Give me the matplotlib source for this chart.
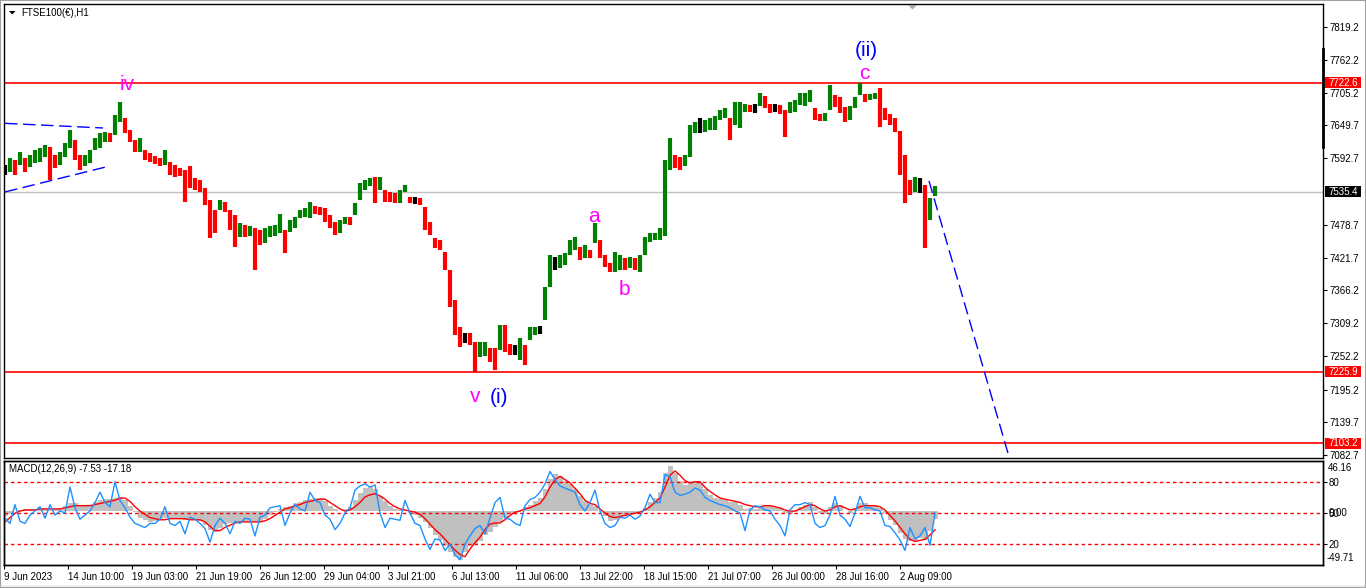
import numpy as np
import matplotlib
matplotlib.use("Agg")
import matplotlib.pyplot as plt
from matplotlib.transforms import blended_transform_factory
from matplotlib.patches import Rectangle, Polygon
from matplotlib.lines import Line2D

plt.rcParams['font.family'] = ['Liberation Sans', 'DejaVu Sans']
plt.rcParams['lines.scale_dashes'] = False

# ---------------- data ----------------
symbol = "FTSE100(€),H1"
macd_title = "MACD(12,26,9) -7.53 -17.18"

closes = [
    7573, 7581, 7576, 7593, 7581, 7590, 7595, 7598, 7607, 7590,
    7586, 7593, 7607, 7633, 7604, 7581, 7590, 7593, 7619, 7624,
    7629, 7628, 7650, 7672, 7650, 7633, 7612, 7616, 7598, 7593,
    7590, 7586, 7593, 7576, 7573, 7569, 7564, 7555, 7547, 7543,
    7521, 7500, 7483, 7512, 7509, 7490, 7469, 7473, 7466, 7469,
    7461, 7452, 7459, 7466, 7469, 7478, 7444, 7473, 7483, 7495,
    7499, 7511, 7504, 7500, 7495, 7478, 7469, 7476, 7487, 7483,
    7512, 7538, 7547, 7555, 7550, 7552, 7530, 7526, 7524, 7528,
    7542, 7521, 7521, 7518, 7487, 7469, 7449, 7442, 7418, 7375,
    7315, 7284, 7284, 7280, 7254, 7263, 7266, 7254, 7246, 7280,
    7277, 7263, 7263, 7272, 7254, 7292, 7297, 7297, 7349, 7409,
    7409, 7414, 7421, 7435, 7444, 7426, 7435, 7426, 7457, 7435,
    7418, 7404, 7409, 7414, 7409, 7414, 7411, 7414, 7444, 7456,
    7457, 7464, 7564, 7590, 7586, 7585, 7590, 7641, 7645, 7645,
    7648, 7650, 7655, 7667, 7669, 7650, 7672, 7679, 7681, 7679,
    7679, 7693, 7688, 7679, 7679, 7676, 7650, 7679, 7681, 7693,
    7696, 7702, 7672, 7662, 7664, 7710, 7693, 7679, 7667, 7672,
    7690, 7714, 7696, 7698, 7700, 7693, 7667, 7659, 7650, 7581,
    7555, 7542, 7547, 7547, 7469, 7512, 7535.4,
]
highs = [
    7581, 7593, 7590, 7604, 7593, 7598, 7607, 7610, 7616, 7612,
    7598, 7604, 7619, 7641, 7624, 7598, 7598, 7607, 7628, 7636,
    7638, 7636, 7667, 7690, 7662, 7641, 7624, 7628, 7607, 7602,
    7597, 7593, 7607, 7586, 7581, 7576, 7573, 7580, 7559, 7555,
    7542, 7521, 7504, 7521, 7518, 7504, 7495, 7481, 7478, 7476,
    7473, 7469, 7473, 7476, 7478, 7497, 7469, 7487, 7492, 7504,
    7507, 7518, 7511, 7509, 7507, 7495, 7483, 7487, 7492, 7492,
    7516, 7550, 7555, 7559, 7561, 7561, 7538, 7535, 7533, 7538,
    7547, 7526, 7526, 7524, 7509, 7483, 7456, 7452, 7432, 7401,
    7349, 7303, 7292, 7292, 7277, 7277, 7277, 7266, 7266, 7306,
    7306, 7273, 7272, 7284, 7272, 7303, 7303, 7304, 7371, 7426,
    7423, 7426, 7430, 7452, 7457, 7440, 7444, 7435, 7481, 7452,
    7426, 7413, 7432, 7426, 7421, 7423, 7421, 7426, 7457, 7464,
    7464, 7473, 7590, 7628, 7598, 7595, 7598, 7650, 7655, 7662,
    7659, 7662, 7665, 7676, 7679, 7662, 7690, 7690, 7686, 7684,
    7686, 7705, 7700, 7686, 7686, 7684, 7676, 7690, 7693, 7705,
    7705, 7710, 7679, 7669, 7671, 7719, 7702, 7698, 7681, 7683,
    7698, 7722, 7703, 7703, 7705, 7714, 7679, 7669, 7662, 7640,
    7598, 7555, 7561, 7559, 7547, 7524, 7545,
]
lows = [
    7564, 7569, 7564, 7581, 7569, 7578, 7585, 7586, 7595, 7555,
    7576, 7581, 7595, 7610, 7590, 7573, 7580, 7585, 7607, 7610,
    7621, 7621, 7633, 7655, 7636, 7621, 7604, 7604, 7590, 7586,
    7583, 7580, 7581, 7564, 7561, 7562, 7518, 7542, 7538, 7535,
    7512, 7456, 7464, 7504, 7500, 7469, 7440, 7457, 7457, 7459,
    7401, 7444, 7447, 7457, 7459, 7464, 7430, 7466, 7473, 7490,
    7492, 7490, 7497, 7495, 7483, 7473, 7461, 7464, 7480, 7478,
    7495, 7521, 7538, 7545, 7516, 7538, 7518, 7518, 7516, 7516,
    7535, 7516, 7514, 7512, 7469, 7461, 7438, 7435, 7401, 7337,
    7289, 7268, 7275, 7272, 7225, 7251, 7253, 7242, 7229, 7263,
    7260, 7254, 7254, 7246, 7237, 7280, 7289, 7291, 7315, 7371,
    7401, 7404, 7409, 7426, 7435, 7418, 7421, 7421, 7447, 7421,
    7406, 7397, 7397, 7401, 7401, 7404, 7401, 7397, 7426, 7449,
    7452, 7452, 7460, 7573, 7576, 7573, 7580, 7595, 7636, 7636,
    7638, 7641, 7641, 7659, 7662, 7624, 7650, 7645, 7672, 7672,
    7671, 7683, 7679, 7671, 7672, 7669, 7629, 7671, 7672, 7684,
    7683, 7690, 7659, 7657, 7657, 7676, 7681, 7671, 7655, 7659,
    7679, 7702, 7690, 7693, 7695, 7647, 7659, 7650, 7638, 7564,
    7516, 7530, 7535, 7533, 7438, 7487, 7528,
]

macd_main = [
    -5, -3, 0, 1, 2, 2, 2, 3, 2, 1,
    2, 3, 5, 7, 7, 6, 5, 6, 8, 10,
    11, 11, 12, 13, 10, 5, -1, -6, -8, -10,
    -9, -8, -6, -6, -7, -7, -8, -8, -8, -9,
    -13, -17, -19, -16, -12, -11, -11, -10, -10, -9,
    -10, -10, -7, -4, -1, 2, 4, 5, 7, 8,
    10, 11, 12, 12, 9, 5, 2, 0, 2, 4,
    10, 17, 21, 22, 20, 14, 9, 5, 2, 1,
    1, -2, -4, -6, -10, -16, -22, -27, -32, -38,
    -42, -45, -38, -32, -30, -28, -22, -19, -15, -10,
    -6, -3, -2, 1, 4, 6, 9, 12, 20, 30,
    34, 32, 28, 25, 20, 14, 9, 6, 5, 0,
    -5, -9, -8, -5, -4, -3, -3, -1, 3, 8,
    12, 18, 35, 42, 35, 28, 24, 27, 28, 26,
    20, 15, 12, 11, 10, 8, 8, 6, 2, 3,
    2, 5, 6, 5, 4, 3, -2, -3, -1, 4,
    6, 8, 4, -2, -3, 4, 7, 6, 0, -2,
    3, 7, 7, 6, 5, 3, -2, -8, -13, -20,
    -26, -28, -28, -25, -27, -18, -7.53,
]
macd_signal = [
    -10, -6, -2, 0, 1, 1, 1, 2, 2, 2,
    2, 2, 3, 4, 5, 5, 5, 5, 6, 7,
    8, 9, 10, 12, 12, 9, 4, 0, -3, -6,
    -7, -8, -8, -7, -7, -7, -7, -8, -8, -8,
    -10, -14, -18, -18, -15, -13, -11, -10, -10, -10,
    -10, -10, -9, -7, -4, -1, 2, 3, 5, 6,
    8, 9, 10, 11, 11, 8, 5, 2, 0, 1,
    4, 8, 13, 15, 16, 14, 11, 7, 4, 2,
    1, 0, -1, -3, -7, -12, -17, -21, -26, -31,
    -36, -40, -42, -35, -29, -24, -17, -12, -11, -11,
    -8, -4, -1, 0, 2, 3, 5, 7, 13, 22,
    29, 32, 29, 26, 21, 16, 10, 7, 6, 2,
    -2, -5, -6, -5, -4, -3, -2, -1, 1, 4,
    8, 12, 22, 33, 37, 33, 28, 26, 27, 27,
    22, 18, 15, 12, 11, 10, 9, 8, 6, 5,
    4, 4, 5, 5, 4, 3, 1, 0, 0, 2,
    4, 6, 5, 2, 0, 1, 4, 5, 3, 1,
    2, 4, 5, 5, 5, 4, 1, -4, -9, -15,
    -21, -26, -28, -27, -26, -22, -17.18,
]
osc_line = [
    45, 40, 58, 42, 40, 48, 52, 56, 45, 58,
    48, 52, 50, 75, 55, 44, 48, 52, 60, 70,
    60, 56, 80, 62, 55, 46, 40, 38, 36, 40,
    40, 44, 56, 40, 38, 42, 30, 46, 44, 40,
    35, 22, 38, 45, 40, 30, 42, 40, 45, 44,
    28, 46, 48, 55, 56, 57, 38, 50, 58, 54,
    52, 70, 62, 60, 48, 44, 34, 40, 50, 55,
    72, 76, 78, 75, 77, 50, 36, 45, 44, 43,
    62, 50, 40, 38, 25, 15, 25, 24, 14, 20,
    10, 5, 20, 28, 35, 38, 30, 45, 60, 65,
    45, 44, 40, 38, 57, 63, 65, 70, 78, 90,
    82, 76, 74, 72, 70, 58, 52, 60, 72, 52,
    40, 36, 38, 46, 45, 48, 44, 47, 55, 68,
    60, 60, 87, 85, 70, 67, 68, 70, 74, 72,
    65, 62, 60, 58, 57, 55, 52, 50, 33, 53,
    57, 56, 53, 52, 44, 38, 28, 53, 58, 58,
    60, 58, 40, 36, 38, 48, 66, 48, 44, 37,
    50, 66, 55, 55, 53, 52, 38, 37, 31, 24,
    14, 36, 25, 28, 36, 19, 50,
]

date_labels = ["9 Jun 2023", "14 Jun 10:00", "19 Jun 03:00", "21 Jun 19:00",
               "26 Jun 12:00", "29 Jun 04:00", "3 Jul 21:00", "6 Jul 13:00",
               "11 Jul 06:00", "13 Jul 22:00", "18 Jul 15:00", "21 Jul 07:00",
               "26 Jul 00:00", "28 Jul 16:00", "2 Aug 09:00"]
price_ticks = [7819.2, 7762.2, 7705.2, 7649.7, 7592.7, 7478.7, 7421.7,
               7366.2, 7309.2, 7252.2, 7195.2, 7139.7, 7082.7]
red_levels = [7722.6, 7225.9, 7103.2]
bid_price = 7535.4
osc_levels = [80, 50, 20]
osc_labels = ["80", "50", "20"]
macd_max, macd_min = 46.16, -49.71

# wave labels: text, bar position, price (baseline), colour
wave_labels = [
    ("iv", 127, 7710, "#FF00FF"),
    ("v", 475, 7173, "#FF00FF"),
    ("(i)", 499, 7172, "#0000FF"),
    ("a", 594, 7484, "#FF00FF"),
    ("b", 624, 7358, "#FF00FF"),
    ("c", 864, 7730, "#FF00FF"),
    ("(ii)", 866, 7768, "#0000FF"),
]
# trend lines (bar position, price)
tri_upper_x, tri_upper_y = [5, 103], [7653, 7645]
tri_lower_x, tri_lower_y = [5, 106], [7535, 7578]
proj_x, proj_y = [929, 1012], [7554, 7062]

# ---------------- figure ----------------
W, H = 1366, 588
fig = plt.figure(figsize=(W / 100, H / 100), dpi=100)
fig.patch.set_facecolor("white")


def fx(px):
    return px / W


def fy(py):
    return 1 - py / H


L, R = 4, 1323
ax = fig.add_axes([fx(L), fy(458), fx(R) - fx(L), fy(4) - fy(458)])
axm = fig.add_axes([fx(L), fy(565), fx(R) - fx(L), fy(461) - fy(565)])
axo = axm.twinx()


def axx(px):
    return (px - L) / (R - L)


n = len(closes)
closes_a = np.array(closes, float)
highs_a = np.array(highs, float)
lows_a = np.array(lows, float)
xs = 5 + 5 * np.arange(n)
opens_a = np.r_[closes_a[0], closes_a[:-1]]
up = closes_a > opens_a
dn = closes_a < opens_a
fl = ~(up | dn)

ax.set_xlim(L, R)
ax.set_ylim(7077.5, 7858.2)

for lv in red_levels:
    ax.axhline(lv, color="red", lw=1.2, zorder=1)
ax.axhline(bid_price, color="#C0C0C0", lw=1.0, zorder=1)

bar_lw = 3.0
ax.vlines(xs[up], lows_a[up], highs_a[up], color="#008000", lw=bar_lw, zorder=3)
ax.vlines(xs[dn], lows_a[dn], highs_a[dn], color="#FF0000", lw=bar_lw, zorder=3)
ax.vlines(xs[fl], lows_a[fl], highs_a[fl], color="black", lw=bar_lw, zorder=3)

dash = (0, (9, 4))
ax.plot(tri_upper_x, tri_upper_y, color="#0000FF", lw=1.0, ls=dash, zorder=2)
ax.plot(tri_lower_x, tri_lower_y, color="#0000FF", lw=1.0, ls=dash, zorder=2)
ax.plot(proj_x, proj_y, color="#0000FF", lw=1.0, ls=dash, zorder=2)

for txt, x, y, col in wave_labels:
    ax.text(x, y, txt, color=col, fontsize=15, ha="center", va="baseline", zorder=6)

ax.yaxis.tick_right()
ax.set_yticks(price_ticks)
ax.set_yticklabels([f"{v:.1f}" for v in price_ticks])
ax.tick_params(axis="y", direction="out", length=2.9, width=0.8, pad=1.5,
               labelsize=7, colors="black")
ax.set_xticks([])
for s in ax.spines.values():
    s.set_color("black")
    s.set_linewidth(1.0)

trans = blended_transform_factory(ax.transAxes, ax.transData)
ppx = (7858.2 - 7077.5) / 454.0
box_h = 11 * ppx
for lv, fc in [(red_levels[0], "red"), (bid_price, "black"),
               (red_levels[1], "red"), (red_levels[2], "red")]:
    ax.add_patch(Rectangle((axx(1325), lv - box_h / 2), axx(1361) - axx(1325), box_h,
                           transform=trans, fc=fc, ec="none", clip_on=False, zorder=7))
    ax.text(axx(1328.5), lv, f"{lv:.1f}", transform=trans, color="white", fontsize=7,
            ha="left", va="center", clip_on=False, zorder=8)

# ---------------- MACD panel ----------------
axm.set_xlim(L, R)
axm.set_ylim(macd_min, macd_max)
axm.bar(xs, macd_main, width=5, color="#C0C0C0", lw=0, zorder=1)
axm.plot(xs, macd_signal, color="red", lw=1.0, zorder=3)
axm.set_yticks([])
axm.set_xticks([4 + 64 * k for k in range(len(date_labels))])
axm.set_xticklabels(date_labels)
for lab in axm.get_xticklabels():
    lab.set_horizontalalignment("left")
axm.tick_params(axis="x", direction="out", length=2.9, width=0.8, pad=2, labelsize=7)

axo.set_xlim(L, R)
axo.set_ylim(0, 100)
for lv in osc_levels:
    axo.axhline(lv, color="red", lw=1.0, ls=(0, (2.5, 2.2)), zorder=1)
axo.plot(xs, osc_line, color="#1E90FF", lw=1.0, zorder=2)
axo.set_yticks(osc_levels)
axo.set_yticklabels(osc_labels)
axo.tick_params(axis="y", direction="out", length=2.9, width=0.8, pad=1.0, labelsize=7)
otrans = blended_transform_factory(axo.transAxes, axo.transData)
axo.text(axx(1328.5), 50, "0.00", transform=otrans, fontsize=7, ha="left", va="center",
         clip_on=False)
axo.text(axx(1328), 0.985, f"{macd_max:.2f}", transform=axo.transAxes, fontsize=7,
         ha="left", va="top", clip_on=False)
axo.text(axx(1327), 0.02, f"{macd_min:.2f}", transform=axo.transAxes, fontsize=7,
         ha="left", va="bottom", clip_on=False)
for a in (axm, axo):
    for s in a.spines.values():
        s.set_color("black")
        s.set_linewidth(1.0)

# ---------------- texts & decorations ----------------
fig.text(fx(21), fy(13), symbol, fontsize=7, va="center", ha="left")
fig.text(fx(9), fy(469), macd_title, fontsize=7, va="center", ha="left")
fig.add_artist(Polygon([(fx(9), fy(11)), (fx(15.5), fy(11)), (fx(12.25), fy(14.5))],
                       closed=True, transform=fig.transFigure, fc="black", ec="none"))
fig.add_artist(Polygon([(fx(908), fy(5)), (fx(917), fy(5)), (fx(912.5), fy(9.5))],
                       closed=True, transform=fig.transFigure, fc="#A8A8A8", ec="none"))
fig.add_artist(Line2D([fx(1323), fx(1323)], [fy(49), fy(147)], transform=fig.transFigure,
                      color="black", lw=2.0))
fig.add_artist(Rectangle((0, 0), 1, 3 / H, transform=fig.transFigure, fc="#F0F0F0",
                         ec="none"))
fig.add_artist(Rectangle((0, 0), 1, 1, transform=fig.transFigure, fill=False,
                         ec="#A0A0A0", lw=1.5))

fig.savefig("out.png", dpi=100)
